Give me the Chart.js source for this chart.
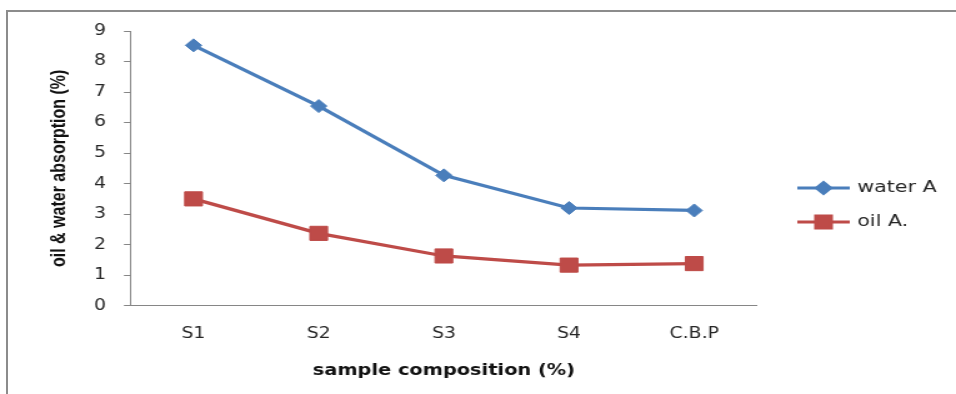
<!DOCTYPE html>
<html>
<head>
<meta charset="utf-8">
<script src="https://cdn.jsdelivr.net/npm/chart.js@4/dist/chart.umd.min.js"></script>
<style>
  body { margin: 0; background: #fff; }
  #wrap { position: relative; width: 956px; height: 394px; overflow: hidden; }
  #frame { position: absolute; left: 6px; top: 10px; width: 1000px; height: 500px;
           border-top: 2px solid #8c8c8c; border-left: 2px solid #8c8c8c; }
  #chart { position: absolute; left: 0; top: 0; }
</style>
</head>
<body>
<div id="wrap">
  <div id="frame"></div>
  <canvas id="chart" width="765" height="394" style="width:956px;height:394px"></canvas>
</div>
<script>
let categories = ["S1", "S2", "S3", "S4", "C.B.P"];
let waterValues = [8.53, 6.54, 4.27, 3.2, 3.12];
let oilValues = [3.5, 2.37, 1.63, 1.33, 1.38];

let waterColor = "#4a7ebb";
let oilColor = "#be4b48";
let axisColor = "#868686";
let textColor = "#262626";

// the picture is stretched sideways, so the canvas is drawn narrow and widened by css
let legendPlugin = {
    id: "sideLegend",
    afterDraw(chart) {
        let ctx = chart.ctx;
        let rows = [188, 222];
        let sizes = [5.5, 8.5];
        chart.data.datasets.forEach((ds, i) => {
            let y = rows[i];
            ctx.save();
            ctx.strokeStyle = ds.borderColor;
            ctx.lineWidth = 3;
            ctx.beginPath();
            ctx.moveTo(638, y);
            ctx.lineTo(680, y);
            ctx.stroke();
            ctx.fillStyle = ds.pointBackgroundColor;
            ctx.strokeStyle = ds.pointBackgroundColor;
            Chart.helpers.drawPoint(ctx, {
                pointStyle: ds.pointStyle,
                radius: sizes[i],
                rotation: 0,
                borderWidth: 1
            }, 659, y);
            ctx.fillStyle = textColor;
            ctx.font = "16.5px 'DejaVu Sans'";
            ctx.textBaseline = "middle";
            ctx.textAlign = "left";
            ctx.fillText(ds.label, 686, y);
            ctx.restore();
        });
    }
};

new Chart("chart", {
    type: "line",
    data: {
        labels: categories,
        datasets: [{
            label: "water A",
            data: waterValues,
            borderColor: waterColor,
            backgroundColor: waterColor,
            pointBackgroundColor: waterColor,
            pointBorderColor: waterColor,
            borderWidth: 3.2,
            pointStyle: "rectRot",
            pointRadius: 6.5,
            pointBorderWidth: 1,
            lineTension: 0,
            fill: false
        }, {
            label: "oil A.",
            data: oilValues,
            borderColor: oilColor,
            backgroundColor: oilColor,
            pointBackgroundColor: oilColor,
            pointBorderColor: oilColor,
            borderWidth: 3.2,
            pointStyle: "rect",
            pointRadius: 10,
            pointBorderWidth: 1,
            lineTension: 0,
            fill: false
        }]
    },
    options: {
        responsive: false,
        animation: false,
        devicePixelRatio: 1,
        layout: { padding: { left: 0, right: 159.4, top: 31, bottom: 0 } },
        plugins: {
            legend: { display: false },
            tooltip: { enabled: false }
        },
        scales: {
            x: {
                offset: true,
                afterFit: s => { s.height = 88.3; },
                grid: { drawOnChartArea: false, drawTicks: false },
                border: { color: axisColor, width: 1 },
                ticks: { color: textColor, padding: 19, font: { family: "DejaVu Sans", size: 15 } },
                title: {
                    display: true,
                    text: "sample composition (%)",
                    color: "#111111",
                    font: { family: "DejaVu Sans", size: 15.5, weight: "bold", lineHeight: 1.2 },
                    padding: { top: 0, bottom: 14 }
                }
            },
            y: {
                min: 0,
                max: 9,
                afterFit: s => { s.width = 104.8; },
                grid: { drawOnChartArea: false, drawTicks: true, tickLength: 5.6, color: axisColor },
                border: { color: axisColor, width: 1 },
                ticks: { stepSize: 1, color: textColor, padding: 14.4, font: { family: "DejaVu Sans", size: 15 } },
                title: {
                    display: true,
                    text: "oil & water absorption (%)",
                    color: "#111111",
                    font: { family: "Liberation Sans", size: 16, weight: "bold", lineHeight: 1.2 },
                    padding: { top: 38.4, bottom: 0 }
                }
            }
        }
    },
    plugins: [legendPlugin]
});
</script>
</body>
</html>
